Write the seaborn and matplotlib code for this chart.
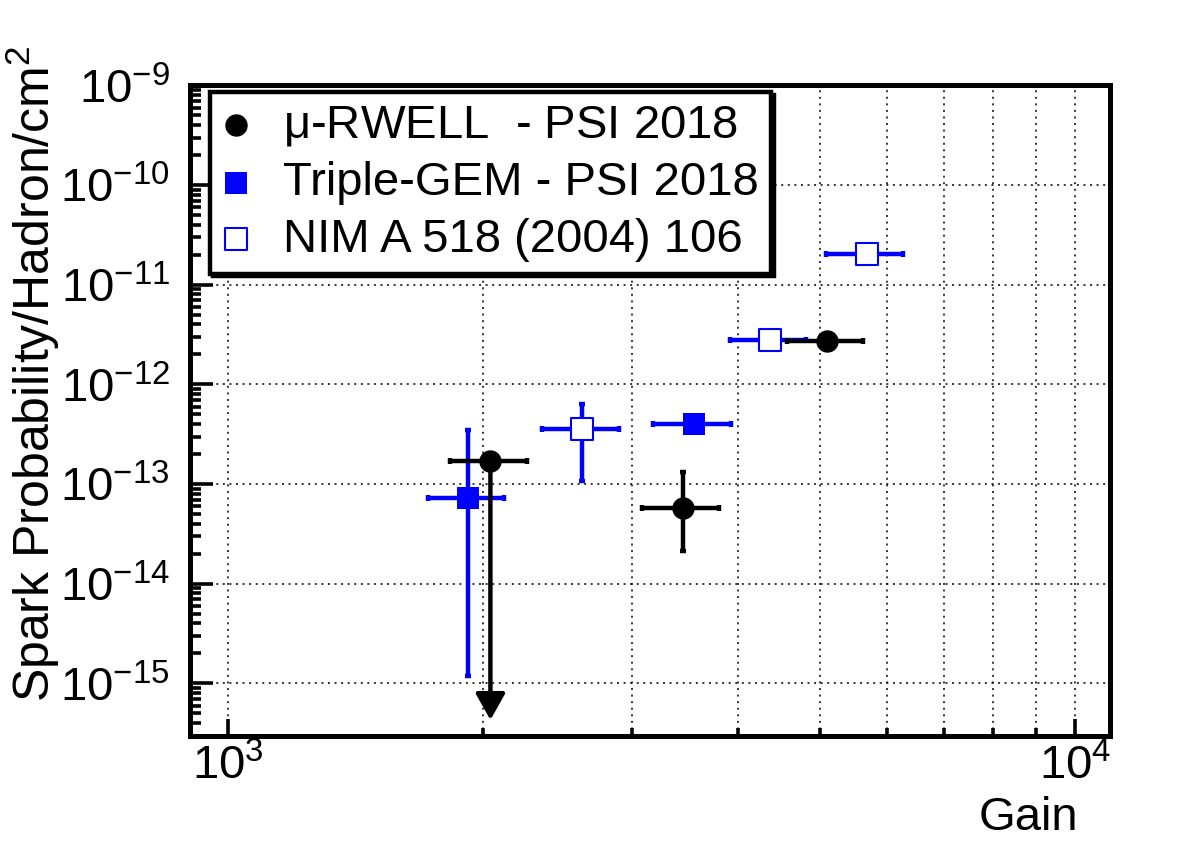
import numpy as np
import pandas as pd
import seaborn as sns
import matplotlib.pyplot as plt
from matplotlib.ticker import LogLocator, NullFormatter

# mu-RWELL - PSI 2018 (first point is an upper limit)
rwell_gain = [2040, 3440, 5090]
rwell_gain_err = [213, 357, 525]
rwell_prob = [1.7e-13, 5.75e-14, 2.75e-12]
rwell_prob_err_lo = [0, 3.6e-14, 0]
rwell_prob_err_hi = [0, 7.45e-14, 0]
rwell_limit_end = 4.3e-16

# Triple-GEM - PSI 2018
gem_gain = [1919, 3548]
gem_gain_err = [198, 375]
gem_prob = [7.2e-14, 3.98e-13]
gem_prob_err_lo = [7.08e-14, 0]
gem_prob_err_hi = [2.75e-13, 0]

# NIM A 518 (2004) 106
nim_gain = [2618, 4363, 5676]
nim_gain_err = [273, 445, 590]
nim_prob = [3.55e-13, 2.8e-12, 2.04e-11]
nim_prob_err_lo = [2.48e-13, 0, 0]
nim_prob_err_hi = [2.75e-13, 0, 0]

x_major = [1e3, 1e4]
y_major = [1e-15, 1e-14, 1e-13, 1e-12, 1e-11, 1e-10, 1e-9]

plt.rcParams['font.family'] = ['Liberation Sans', 'DejaVu Sans']
plt.rcParams['mathtext.fontset'] = 'custom'
plt.rcParams['mathtext.rm'] = 'Liberation Sans'
plt.rcParams['mathtext.it'] = 'Liberation Sans:italic'
plt.rcParams['mathtext.default'] = 'regular'

fig = plt.figure(figsize=(11.82, 8.46), dpi=100)
ax = fig.add_axes([189.5 / 1182, (846 - 735.5) / 846, (1110 - 189.5) / 1182, (735.5 - 85.5) / 846])

ebar = dict(fmt='none', elinewidth=3.2, capsize=2, capthick=3.2, zorder=2)

# error bars
ax.errorbar(gem_gain, gem_prob, xerr=gem_gain_err,
            yerr=[gem_prob_err_lo, gem_prob_err_hi], ecolor='blue', **ebar)
ax.errorbar(nim_gain, nim_prob, xerr=nim_gain_err,
            yerr=[nim_prob_err_lo, nim_prob_err_hi], ecolor='blue', **ebar)
ax.errorbar(rwell_gain, rwell_prob, xerr=rwell_gain_err,
            yerr=[rwell_prob_err_lo, rwell_prob_err_hi], ecolor='black', **ebar)

# upper limit arrow
ax.annotate('', xy=(rwell_gain[0], rwell_limit_end), xytext=(rwell_gain[0], rwell_prob[0]),
            arrowprops=dict(arrowstyle='-|>,head_length=0.8,head_width=0.45', color='black',
                            lw=3.2, shrinkA=0, shrinkB=0, mutation_scale=20), zorder=2)

# markers
rwell = pd.DataFrame({'gain': rwell_gain, 'prob': rwell_prob})
gem = pd.DataFrame({'gain': gem_gain, 'prob': gem_prob})
nim = pd.DataFrame({'gain': nim_gain, 'prob': nim_prob})

sns.scatterplot(data=rwell, x='gain', y='prob', ax=ax, marker='o', s=260, color='black',
                edgecolor='black', linewidth=0, zorder=4, label=r'$\mu$-RWELL  - PSI 2018')
sns.scatterplot(data=gem, x='gain', y='prob', ax=ax, marker='s', s=260, color='blue',
                edgecolor='blue', linewidth=0, zorder=3, label='Triple-GEM - PSI 2018')
sns.scatterplot(data=nim, x='gain', y='prob', ax=ax, marker='s', s=240, color='white',
                edgecolor='blue', linewidth=1.5, zorder=3, label='NIM A 518 (2004) 106')

ax.set_xscale('log')
ax.set_yscale('log')
ax.set_xticks(x_major)
ax.set_yticks(y_major)
ax.set_xlim(900, 11000)
ax.set_ylim(3e-16, 1e-9)

ax.xaxis.set_minor_locator(LogLocator(base=10, subs=np.arange(2, 10), numticks=50))
ax.yaxis.set_minor_locator(LogLocator(base=10, subs=np.arange(2, 10), numticks=50))
ax.xaxis.set_minor_formatter(NullFormatter())
ax.yaxis.set_minor_formatter(NullFormatter())

ax.grid(True, which='both', axis='x', color='black', linestyle=(0, (1.3, 3)), linewidth=1.1)
ax.grid(True, which='major', axis='y', color='black', linestyle=(0, (1.3, 3)), linewidth=1.1)

for sp in ax.spines.values():
    sp.set_linewidth(3.6)
ax.tick_params(axis='both', which='both', direction='in', width=2.6, labelsize=34,
               top=False, right=False)
ax.tick_params(axis='y', which='major', length=16.5, pad=14)
ax.tick_params(axis='y', which='minor', length=8)
ax.tick_params(axis='x', which='major', length=12.5, pad=6)
ax.tick_params(axis='x', which='minor', length=6)

ax.set_xlabel('Gain', fontsize=34, ha='right', va='top')
ax.xaxis.set_label_coords((1078 - 189.5) / 920.5, -(796 - 735.5) / 650)
ax.set_ylabel('Spark Probability/Hadron/cm$^2$', fontsize=36, ha='right')
ax.yaxis.set_label_coords(-(189.5 - 62) / 920.5, 1 + (85.5 - 45) / 650)

leg = ax.legend(loc='upper left', bbox_to_anchor=(210 / 1182, 1 - 92 / 846),
                bbox_transform=fig.transFigure, borderaxespad=0, fontsize=34,
                frameon=True, fancybox=False, edgecolor='black', framealpha=1,
                handlelength=0.6, handletextpad=0.7, borderpad=0.25, labelspacing=0.27,
                markerscale=1.0, shadow={'color': 'black', 'alpha': 1})
leg.get_frame().set_linewidth(3.2)
leg.set_zorder(10)

fig.savefig('out.png', dpi=100)
